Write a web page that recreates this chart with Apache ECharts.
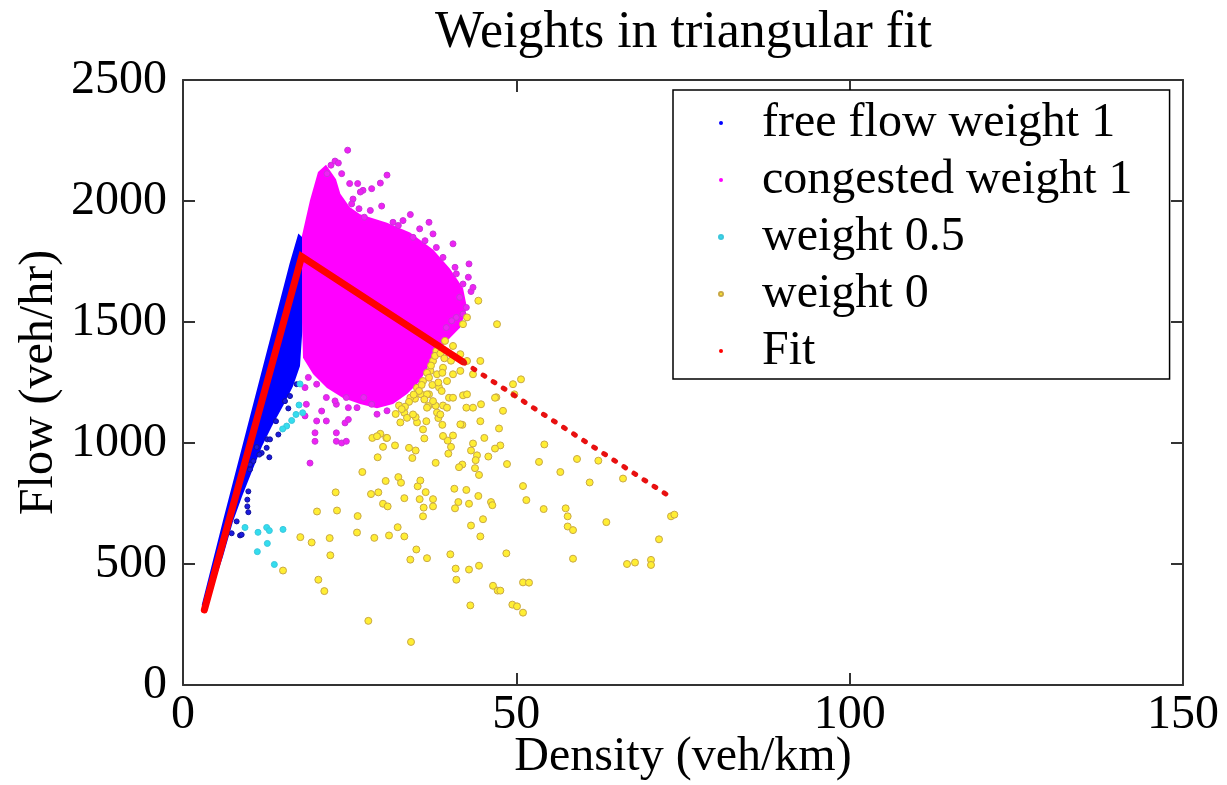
<!DOCTYPE html>
<html>
<head>
<meta charset="utf-8">
<title>Weights in triangular fit</title>
<script src="https://cdn.jsdelivr.net/npm/echarts@6/dist/echarts.min.js"></script>
<style>
  html, body { margin: 0; padding: 0; background: #fff; }
  #chart { width: 1227px; height: 785px; }
</style>
</head>
<body>
<div id="chart"></div>
<script>
const FONT = 'Liberation Serif'

const xTicks = [0, 50, 100, 150]
const yTicks = [0, 500, 1000, 1500, 2000, 2500]
const seriesNames = ['free flow weight 1', 'congested weight 1', 'weight 0.5', 'weight 0', 'Fit']
const colors = ['#0000ff', '#ff00ff', '#33ddee', '#ffee33', '#ff0000']

// dense free-flow band (outline of the solid blue cloud)
const freeFlowCore = [
  [2.8,330],[6.0,680],[9.5,1052],[13.0,1424],[16.0,1743],[17.3,1866],[17.9,1850],
  [17.9,1464],[17.55,1318],[16.5,1235],[15.0,1153],[13.35,1070],[11.85,987],[10.35,883],
  [8.85,779],[7.5,676],[6.0,531],[4.5,406],[3.6,323]
]
// scattered free-flow points below the band
const freeFlowPts = [
  [9.8,800],[9.65,766],[9.65,738],[9.8,714],[8.05,676],[8.55,618],[7.3,627],[12.95,941],
  [11.8,959],[12.65,1015],[11.05,983],[10.55,925],[10.05,891],[8.8,621],[14.3,1035],
  [15.8,1143],[17.05,1243],[13.05,1015],[12.55,980],[11.45,952],[10.05,911],[13.95,1090],
  [15.3,1173],[16.05,1194]
]

// dense congested cloud outline
const congestedCore = [
  [17.85,1857],[19.05,2003],[20.25,2120],[21.45,2150],[22.95,2090],[23.6,2030],[25.0,1975],
  [26.55,1945],[30.6,1910],[34.05,1870],[37.5,1800],[40.05,1720],[42.0,1640],[42.6,1559],
  [41.55,1476],[39.6,1422],[37.5,1352],[35.55,1256],[33.6,1202],[31.5,1161],[29.1,1144],
  [26.55,1161],[24.0,1186],[21.6,1227],[19.5,1285],[18.0,1352],[17.85,1500]
]
const congestedPts = [
  [24.7,2210],[22.2,2148],[22.8,2165],[23.3,2157],[21.6,2113],[23.8,2113],[25.0,2072],
  [26.2,2072],[30.6,2107],[29.6,2074],[28.3,2051],[27.0,2044],[26.6,2037],[25.5,2008],
  [25.3,1988],[26.4,1968],[28.1,1961],[29.8,1979],[34.1,1944],[33.0,1919],[31.5,1912],
  [36.9,1912],[37.5,1864],[35.5,1885],[34.5,1850],[36.3,1836],[38.0,1808],[40.5,1823],
  [39.0,1767],[40.8,1726],[42.9,1740],[42.8,1685],[41.0,1699],[32.3,1899],[27.2,1933],
  [43.2,1626],[42.0,1657],[43.5,1643],[41.5,1602],[42.5,1560],[41.0,1519],[42.0,1533],
  [39.5,1477],[40.3,1505],[19.05,917],[19.8,1007],[19.8,1042],[23.0,1007],[23.8,1000],
  [24.5,1007],[24.3,1083],[23.0,1042],[21.5,1091],[20.05,1091],[20.8,1132],[23.0,1160],
  [24.8,1146],[18.5,1160],[18.3,1229],[18.8,1271],[20.05,1243],[21.5,1188],[26.1,1146],
  [27.1,1188],[29.1,1119],[30.6,1133],[28.3,1160],[24.5,1188],[24.8,1097],[22.8,1174],
  [18.3,1112]
]

const halfWeightPts = [
  [17.4,1157],[17.95,1125],[16.95,1118],[16.3,1093],[15.55,1070],[14.95,1058],[17.55,1244],
  [9.3,651],[11.25,631],[12.55,651],[12.95,638],[15.0,643],[12.65,585],[11.15,551],[13.7,498]
]

const zeroWeightPts = [
  [20.1,717],[23.1,721],[22.9,796],[26.9,880],[29.2,941],[30.0,984],[31.8,990],[33.9,980],
  [34.9,969],[34.4,938],[37.9,918],[30.4,843],[32.3,859],[32.7,836],[28.2,789],[29.3,796],
  [35.2,821],[35.6,845],[36.4,797],[33.2,772],[35.5,768],[37.5,768],[37.5,738],[36.1,733],
  [30.0,749],[30.7,738],[26.2,698],[36.0,697],[32.2,652],[26.1,630],[28.7,608],[30.9,618],
  [33.2,614],[22.0,607],[19.3,589],[22.1,536],[35.0,560],[34.1,518],[36.6,524],[40.1,540],
  [40.7,811],[42.5,806],[41.3,756],[40.8,730],[42.9,749],[44.3,781],[46.2,756],[46.4,743],
  [45.0,685],[43.2,659],[44.6,614],[40.9,481],[41.0,435],[42.9,477],[44.4,493],[48.5,544],
  [51.0,822],[51.5,764],[54.1,727],[53.4,922],[54.2,994],[48.6,913],[46.5,410],[47.2,390],
  [51.0,424],[51.9,423],[49.4,332],[50.1,325],[51.0,299],[43.1,329],[27.8,265],[34.2,178],
  [20.3,435],[21.2,388],[17.6,611],[41.9,1075],[42.0,1197],[42.5,1146],[44.7,1160],
  [47.0,1189],[48.0,1133],[47.4,1060],[47.6,990],[46.8,977],[45.2,1021],[43.5,998],
  [43.2,969],[44.1,949],[43.9,929],[41.9,911],[41.4,900],[43.8,896],[44.4,868],[45.8,944],
  [40.2,984],[39.8,956],[40.5,1031],[39.7,1010],[39.0,1029],[38.3,1103],[38.9,1075],
  [38.1,1126],[36.5,1090],[36.0,1056],[36.2,1019],[35.1,1085],[34.9,1107],[32.6,1085],
  [29.6,1038],[28.4,1021],[30.5,1021],[36.8,1153],[37.9,1154],[39.0,1155],[39.9,1187],
  [38.4,1230],[36.9,1201],[35.7,1201],[34.8,1183],[33.2,1125],[32.4,1155],[49.5,1243],
  [50.7,1263],[49.7,1201],[59.1,934],[62.3,927],[56.6,880],[61.0,837],[66.0,853],[57.4,730],
  [57.7,697],[57.7,655],[58.5,640],[63.5,673],[73.2,697],[73.7,704],[71.4,602],[58.5,522],
  [66.6,500],[67.8,506],[70.2,517],[70.2,496],[47.6,390],[15.0,473],[39.3,1422],[40.5,1401],
  [41.6,1367],[42.6,1339],[42.0,1491],[42.6,1519],[44.3,1588],[47.1,1491],[37.5,1339],
  [37.1,1298],[36.0,1256],[35.1,1228],[34.1,1187],[36.6,1201],[38.1,1284],[39.0,1311],
  [39.6,1256],[38.8,1215],[37.5,1173],[40.5,1284],[41.6,1298],[43.5,1284],[42.6,1201],
  [40.5,1187],[39.6,1146],[38.6,1118],[33.6,1104],[41.6,1077],[44.6,1339],[46.8,1187],
  [43.5,1146],[44.6,1090],[29.1,1028],[30.6,1021],[34.5,1118],[36.6,1146],
  [38.0,1380],[37.8,1360],[38.6,1370],[37.2,1320],[36.6,1290],[36.9,1270],[35.8,1240],
  [35.4,1215],[34.6,1200],[33.9,1170],[33.3,1150],[32.8,1140],[31.9,1120],[37.4,1240],
  [36.2,1180],[38.3,1250],[39.2,1350],[40.2,1340],[38.9,1290]
]

// fitted triangle: dense part, then the sparse dotted tail
const fitHead = [[3.2,310],[17.8,1770],[42.0,1335]]
const fitTail = [[42.0,1335],[73.5,770]]

function cloudSeries(name, outline, color, z) {
  return {
    type: 'custom',
    name: name,
    data: outline,
    silent: true,
    z: z,
    renderItem: function (params, api) {
      if (params.dataIndex !== 0) return
      return {
        type: 'polygon',
        shape: { points: outline.map(p => api.coord(p)) },
        style: { fill: color }
      }
    }
  }
}

function dotSeries(name, pts, color, size, border, z) {
  return {
    type: 'scatter',
    name: name,
    data: pts,
    symbolSize: size,
    z: z,
    itemStyle: { color: color, borderColor: border, borderWidth: 1, opacity: 1 }
  }
}

const axisText = { fontFamily: FONT, fontSize: 48, color: '#000' }
const lineStyle = { color: '#333', width: 2 }
const tick = { inside: true, length: 12, lineStyle: lineStyle }

const option = {
  animation: false,
  title: {
    text: 'Weights in triangular fit',
    left: 430,
    top: 2,
    textStyle: { fontFamily: FONT, fontSize: 52, fontWeight: 'normal', color: '#000' }
  },
  grid: { left: 183, right: 44, top: 80, bottom: 100, outerBoundsMode: 'none' },
  legend: {
    left: 673,
    top: 90,
    orient: 'vertical',
    itemWidth: 4,
    itemHeight: 4,
    itemGap: 7,
    padding: [8, 37, 3, 45],
    borderColor: '#000',
    borderWidth: 1.5,
    backgroundColor: '#fff',
    textStyle: { fontFamily: FONT, fontSize: 48, lineHeight: 50, color: '#000', padding: [0, 0, 0, 34] },
    data: seriesNames.map((n, i) => ({ name: n, icon: 'circle', itemStyle: { color: colors[i] } }))
  },
  xAxis: [{
    type: 'value',
    min: xTicks[0], max: xTicks[xTicks.length - 1], interval: xTicks[1] - xTicks[0],
    name: 'Density (veh/km)',
    nameLocation: 'middle',
    nameGap: 48,
    nameMoveOverlap: false,
    nameTextStyle: axisText,
    axisLine: { onZero: false, lineStyle: lineStyle },
    axisTick: tick,
    axisLabel: { ...axisText, margin: 6 },
    splitLine: { show: false }
  }, {
    type: 'value', position: 'top',
    min: xTicks[0], max: xTicks[xTicks.length - 1], interval: xTicks[1] - xTicks[0],
    axisLine: { show: true, onZero: false, lineStyle: lineStyle },
    axisTick: tick,
    axisLabel: { show: false },
    splitLine: { show: false }
  }],
  yAxis: [{
    type: 'value',
    min: yTicks[0], max: yTicks[yTicks.length - 1], interval: yTicks[1] - yTicks[0],
    name: 'Flow (veh/hr)',
    nameLocation: 'middle',
    nameGap: 120,
    nameMoveOverlap: false,
    nameTextStyle: axisText,
    axisLine: { show: true, onZero: false, lineStyle: lineStyle },
    axisTick: tick,
    axisLabel: { ...axisText, margin: 16, formatter: v => String(v) },
    splitLine: { show: false }
  }, {
    type: 'value', position: 'right',
    min: yTicks[0], max: yTicks[yTicks.length - 1], interval: yTicks[1] - yTicks[0],
    axisLine: { show: true, onZero: false, lineStyle: lineStyle },
    axisTick: tick,
    axisLabel: { show: false },
    splitLine: { show: false }
  }],
  series: [
    cloudSeries(seriesNames[0], freeFlowCore, colors[0], 2),
    dotSeries(seriesNames[0], freeFlowPts, '#1a1adf', 5, '#10109a', 3),
    cloudSeries(seriesNames[1], congestedCore, colors[1], 4),
    dotSeries(seriesNames[1], congestedPts, '#ee22f4', 6, '#c833d8', 5),
    dotSeries(seriesNames[2], halfWeightPts, colors[2], 6, '#3cc6dc', 6),
    dotSeries(seriesNames[3], zeroWeightPts, colors[3], 7, '#c9a845', 7),
    {
      type: 'line', name: seriesNames[4], data: fitHead, z: 8,
      showSymbol: false, symbol: 'none',
      lineStyle: { color: colors[4], width: 7, cap: 'round', join: 'miter' }
    },
    {
      type: 'line', name: seriesNames[4], data: fitTail, z: 8,
      showSymbol: false, symbol: 'none',
      lineStyle: { color: '#e81010', width: 5, type: [2, 10], cap: 'round' }
    }
  ]
}

const chart = echarts.init(document.getElementById('chart'))
chart.setOption(option)
</script>
</body>
</html>
